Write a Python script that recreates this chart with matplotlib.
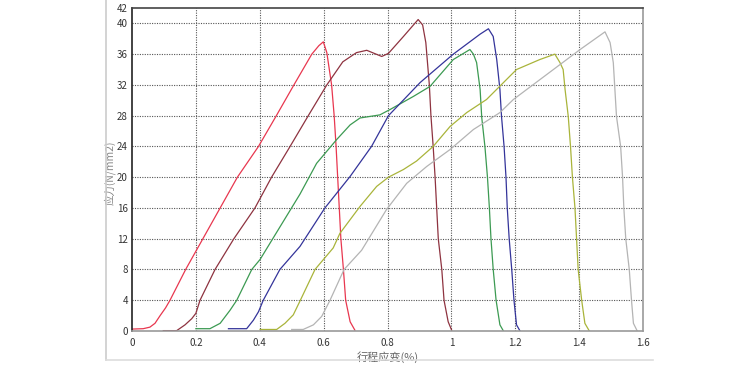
import matplotlib; matplotlib.use("Agg")
import matplotlib.pyplot as plt
from matplotlib.lines import Line2D

plt.rcParams["font.family"] = ["Noto Sans CJK SC", "DejaVu Sans"]

# 6 specimens, strain (%) vs stress (N/mm2)
red_x = [0, 0.035, 0.056, 0.072, 0.088, 0.105, 0.119, 0.168, 0.222, 0.276, 0.33, 0.396, 0.452, 0.507, 0.563, 0.585, 0.599,
         0.61, 0.625, 0.633, 0.639, 0.644, 0.649, 0.654, 0.662, 0.669, 0.683, 0.698]
red_y = [0.25, 0.3, 0.5, 1.0, 2.0, 3.0, 4, 8, 12, 16, 20, 24, 28, 32, 36, 37.1, 37.6,
         36.2, 32, 28, 24, 20, 16, 12, 8, 4, 1.2, 0.1]
brown_x = [0.098, 0.14, 0.166, 0.187, 0.2, 0.213, 0.26, 0.319, 0.385, 0.437, 0.495, 0.552, 0.61, 0.66, 0.703, 0.735,
           0.782, 0.803, 0.85, 0.896, 0.91, 0.92, 0.925, 0.931, 0.936, 0.943, 0.949, 0.954, 0.959, 0.97, 0.977, 0.99, 1.001]
brown_y = [0.05, 0.05, 0.8, 1.6, 2.3, 4, 8, 12, 16, 20, 24, 28, 32, 35, 36.2, 36.5,
           35.7, 36.1, 38.3, 40.5, 39.8, 37.5, 35, 32, 28, 24, 20, 16, 12, 8, 4, 1.2, 0.1]
green_x = [0.2, 0.244, 0.276, 0.307, 0.328, 0.375, 0.401, 0.526, 0.578, 0.641, 0.683, 0.714, 0.776, 0.808, 0.881, 0.933,
           1.006, 1.058, 1.069, 1.079, 1.09, 1.095, 1.105, 1.113, 1.119, 1.124, 1.131, 1.14, 1.152, 1.163]
green_y = [0.3, 0.3, 1.0, 2.7, 4, 8, 9.3, 17.8, 21.8, 24.9, 26.8, 27.7, 28.1, 28.8, 30.5, 31.8,
           35.3, 36.6, 36, 34.9, 31.4, 27.8, 24, 20, 16, 12, 8, 4, 0.8, 0]
blue_x = [0.302, 0.359, 0.38, 0.396, 0.411, 0.463, 0.526, 0.604, 0.683, 0.75, 0.803, 0.902, 1.006, 1.09, 1.116,
          1.131, 1.142, 1.152, 1.157, 1.165, 1.171, 1.175, 1.181, 1.189, 1.196, 1.204, 1.215]
blue_y = [0.3, 0.3, 1.4, 2.5, 4, 8, 11, 16, 20.1, 24, 28, 32.3, 36, 38.6, 39.3,
          38.3, 35.3, 31.4, 27.9, 24, 20, 16, 12, 8, 4, 0.8, 0]
olive_x = [0.401, 0.453, 0.479, 0.505, 0.526, 0.573, 0.63, 0.651, 0.714, 0.766, 0.803, 0.85, 0.891, 0.943, 0.996, 1.048,
           1.11, 1.204, 1.277, 1.324, 1.34, 1.35, 1.356, 1.366, 1.373, 1.379, 1.387, 1.392, 1.397, 1.408, 1.418, 1.432]
olive_y = [0.2, 0.2, 1.0, 2.1, 3.9, 8, 10.8, 12.7, 16.2, 18.8, 20, 21, 22.1, 24, 26.6, 28.4,
           30.1, 34, 35.3, 36, 34.9, 34, 31.4, 27.9, 24, 20, 16, 12, 8, 4, 1.0, 0]
gray_x = [0.5, 0.536, 0.568, 0.594, 0.62, 0.664, 0.719, 0.797, 0.86, 0.923, 0.996, 1.069, 1.152, 1.194, 1.403, 1.481,
          1.497, 1.507, 1.512, 1.517, 1.53, 1.536, 1.54, 1.546, 1.557, 1.564, 1.57, 1.582]
gray_y = [0.2, 0.2, 0.8, 1.9, 4, 8, 10.5, 15.8, 19.2, 21.4, 23.6, 26.2, 28.4, 30.1, 36.6, 38.9,
          37.5, 34.9, 31.4, 27.9, 24, 20, 16, 12, 8, 4, 1.0, 0]

curves = [(red_x, red_y, "#e8374f"), (brown_x, brown_y, "#8e3340"), (green_x, green_y, "#3c9a52"),
          (blue_x, blue_y, "#34349a"), (olive_x, olive_y, "#a9b43a"), (gray_x, gray_y, "#b4b4b4")]

x_ticks = [0, 0.2, 0.4, 0.6, 0.8, 1.0, 1.2, 1.4, 1.6]
x_labels = ["0", "0.2", "0.4", "0.6", "0.8", "1", "1.2", "1.4", "1.6"]
y_ticks = [0, 4, 8, 12, 16, 20, 24, 28, 32, 36, 40, 42]

fig = plt.figure(figsize=(7.56, 3.71), dpi=100)
ax = fig.add_axes([132/756, 1-331/371, 511/756, 323/371])
for xs, ys, c in curves:
    ax.plot(xs, ys, color=c, lw=0.9)
ax.set_xlim(0, 1.6); ax.set_ylim(0, 42)
ax.set_xticks(x_ticks, x_labels); ax.set_yticks(y_ticks)
ax.tick_params(length=0, labelsize=7, colors="#333333")
ax.tick_params(axis="y", pad=3); ax.tick_params(axis="x", pad=5)
for v in x_ticks[1:-1]:
    ax.axvline(v, color="#555555", lw=0.8, ls=(0, (1, 1.2)), zorder=0)
for v in y_ticks[1:-1]:
    ax.axhline(v, color="#555555", lw=0.8, ls=(0, (1, 1.2)), zorder=0)
ax.spines["left"].set_color("#222222"); ax.spines["top"].set_color("#444444")
ax.spines["right"].set_color("#999999"); ax.spines["bottom"].set_color("#999999")
for s in ax.spines.values(): s.set_linewidth(1.2)
ax.set_xlabel("行程应变(%)", fontsize=8, color="#666666", labelpad=2)
ax.set_ylabel("应力(N/mm2)", fontsize=7.5, color="#888888")
ax.yaxis.set_label_coords(-0.032, 0.49)
# outer panel frame lines
fig.add_artist(Line2D([106/756, 106/756], [1, 1-360/371], color="#cccccc", lw=1.2))
fig.add_artist(Line2D([106/756, 653/756], [1-360/371, 1-360/371], color="#dddddd", lw=1.2))
plt.savefig("out.png", dpi=100)
